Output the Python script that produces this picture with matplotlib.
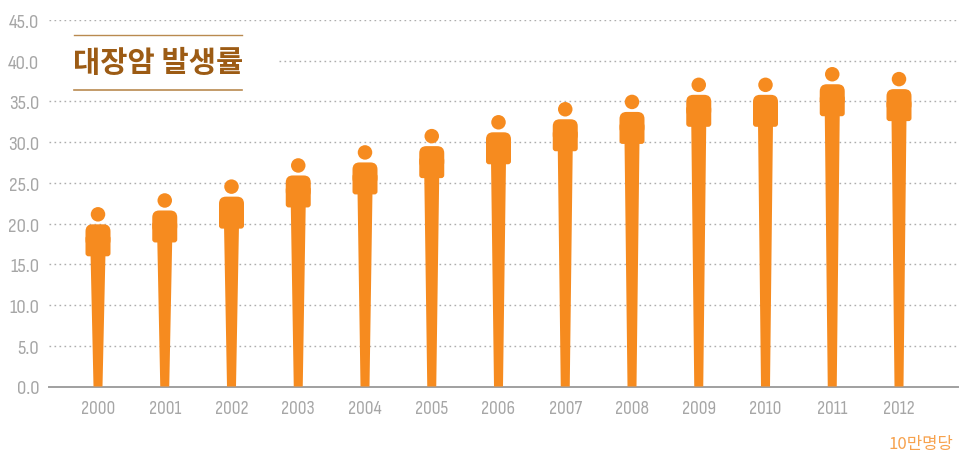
import matplotlib
matplotlib.use("Agg")
import matplotlib.pyplot as plt
from matplotlib.patches import Ellipse, FancyBboxPatch, Polygon, Rectangle

# Colorectal cancer incidence
years = [2000, 2001, 2002, 2003, 2004, 2005, 2006, 2007, 2008, 2009, 2010, 2011, 2012]
rates = [22.0, 23.7, 25.4, 28.0, 29.6, 31.6, 33.3, 34.9, 35.8, 37.9, 37.9, 39.2, 38.6]
y_ticks = [0, 5, 10, 15, 20, 25, 30, 35, 40, 45]
title = "대장암 발생률"
unit = "10만명당"

ORANGE = "#f68b1f"
GREY = "#a6a6a6"
NARROW = ["Sofia Sans Condensed", "Liberation Sans", "DejaVu Sans"]
CJK = ["Noto Sans CJK KR", "DejaVu Sans"]

W, H = 959, 456
fig = plt.figure(figsize=(W / 100, H / 100), dpi=100)
# axes box in pixels: x 49..958, y 21..387.5
ax = fig.add_axes([49 / W, (H - 387.5) / H, 909 / W, 366.5 / H])
px_x = 66.75  # pixels per year
px_y = 366.5 / 45  # pixels per unit
ax.set_xlim(2000 - 49 / px_x, 2012 + 59 / px_x)
ax.set_ylim(0, 45)


def rounded(year, top, y0, y1, radius):
    # y0, y1 are pixels below the head top, radius in pixels
    dx = 1 / px_x
    dy = 1 / px_y
    ax.add_patch(FancyBboxPatch((year - 12.5 * dx, top - y1 * dy), 25 * dx, (y1 - y0) * dy,
                                boxstyle=f"round,pad=0,rounding_size={radius * dx}",
                                mutation_aspect=px_x / px_y,
                                color=ORANGE, lw=0, zorder=3))


def draw_person(year, top):
    dx = 1 / px_x
    dy = 1 / px_y
    ax.add_patch(Ellipse((year, top - 7 * dy), 14.5 * dx, 14.5 * dy, color=ORANGE, lw=0, zorder=3))
    # leg, tapers down to the axis
    ax.add_patch(Polygon([(year - 7.5 * dx, top - 45 * dy), (year + 7.5 * dx, top - 45 * dy),
                          (year + 4.5 * dx, 0), (year - 4.5 * dx, 0)],
                         color=ORANGE, lw=0, zorder=3))
    # shoulders are much rounder than the hips
    rounded(year, top, 17, 40, 7)
    rounded(year, top, 28, 49, 3)


for year, rate in zip(years, rates):
    draw_person(year, rate)

ax.set_yticks(y_ticks)
ax.set_yticklabels([f"{v:.1f}" for v in y_ticks], family=NARROW, fontsize=15, color=GREY)
ax.set_xticks(years)
ax.set_xticklabels(years, family=NARROW, fontsize=14, color=GREY)
ax.tick_params(axis="y", length=0, pad=7)
ax.tick_params(axis="x", length=0, pad=9)
ax.grid(axis="y", color="#adadad", lw=1, linestyle=(0, (1.2, 2.4)))
ax.set_axisbelow(True)
for side in ["top", "right", "left"]:
    ax.spines[side].set_visible(False)
ax.spines["bottom"].set_color("#a0a0a0")
ax.spines["bottom"].set_linewidth(1.4)
ax.spines["bottom"].set_zorder(2)

# title block, white box hides the 40.0 gridline
fig.add_artist(Rectangle((49 / W, (H - 88) / H), 229 / W, 53 / H, color="white", lw=0, zorder=1))
fig.add_artist(plt.Line2D([73.5 / W, 242 / W], [(H - 35.5) / H] * 2, color="#b98a50", lw=1))
fig.add_artist(plt.Line2D([73.5 / W, 242 / W], [(H - 90.5) / H] * 2, color="#b98a50", lw=1.2))
fig.text(73 / W, (H - 63) / H, title, family=CJK, weight="black",
         fontsize=21.3, color="#9c5b14", ha="left", va="center", zorder=5)
fig.text(953 / W, (H - 445) / H, unit, family=CJK,
         fontsize=12, color="#f7a24e", ha="right", va="center")

fig.savefig("out.png", dpi=100)
